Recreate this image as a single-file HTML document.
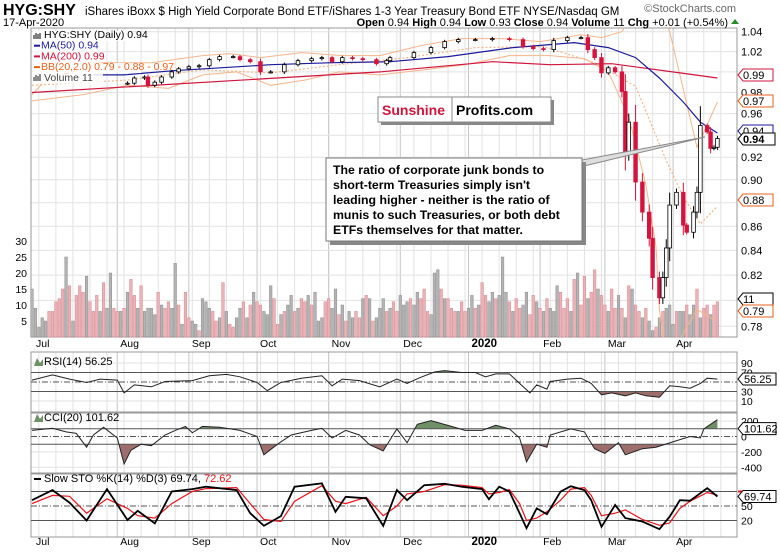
<!DOCTYPE html>
<html><head><meta charset="utf-8"><style>
body{margin:0;background:#fff;}
svg{display:block;font-family:"Liberation Sans",sans-serif;}
</style></head><body>
<svg id="c" width="780" height="552" viewBox="0 0 780 552" xmlns="http://www.w3.org/2000/svg">
<rect width="780" height="552" fill="#fff"/>
<g id="grid"></g>
<g id="vol"></g>
<g id="price"></g>
<g id="ind"></g>
<g id="txt"></g>
</svg>
<script>
// ---------- DATA ----------
const priceTicks=[1.04,1.02,0.98,0.96,0.92,0.90,0.86,0.84,0.82,0.78];
const volTicks=[30,25,20,15,10,5];
const monthNames=["Aug","Sep","Oct","Nov","Dec","2020","Feb","Mar","Apr"];
const monthDays=[25,46,66,87,108,128,149,168,188];
const pDays=[28,30,33,34,36,38,41,43,46,49,52,55,59,61,64,67,70,74,78,82,85,88,91,94,97,101,104,105,112,117,121,125,130,135,140,144,147,150,153,157,161,163,165,167,169,171,173,174,175,177,179,181,182,184,185,186,187,189,191,192,194,195,196,198,199,200,201];
const pClose=[0.989,0.994,0.995,0.987,0.990,0.995,1.000,1.003,1.005,1.006,1.012,1.015,1.015,1.012,1.010,1.000,1.000,1.007,1.011,1.013,1.014,1.010,1.014,1.013,1.012,1.008,1.011,1.014,1.019,1.024,1.030,1.032,1.032,1.033,1.032,1.025,1.023,1.022,1.031,1.034,1.034,1.022,1.014,0.999,1.004,1.000,0.981,0.925,0.952,0.898,0.872,0.850,0.818,0.802,0.818,0.842,0.878,0.889,0.861,0.855,0.872,0.889,0.949,0.943,0.928,0.929,0.937];
const ma200Days=[0,102,135,152,170,179,190,201];
const ma200Vals=[0.980,1.000,1.010,1.007,1.008,1.004,0.999,0.994];
const ma50Days=[18,27,41,70,88,105,122,141,159,169,177,184,191,196,201];
const ma50Vals=[0.997,0.997,1.001,1.007,1.009,1.010,1.015,1.024,1.029,1.024,1.014,0.994,0.971,0.952,0.942];
const bbUpDays=[0,4,20,35,50,58,67,79,91,102,114,126,138,149,161,167,173,177,180,184,187,195,201];
const bbUpVals=[0.978,0.992,1.009,1.009,1.016,1.018,1.014,1.019,1.016,1.016,1.026,1.033,1.033,1.030,1.037,1.034,1.040,1.062,1.075,1.060,1.040,0.929,0.971];
const bbLoDays=[0,15,28,40,50,60,70,80,90,102,115,127,140,152,162,169,175,180,183,184,186,190,195,200];
const bbLoVals=[0.972,0.978,0.987,0.984,0.997,1.000,0.987,0.992,1.000,0.997,1.002,1.007,1.016,1.016,1.013,1.000,0.957,0.896,0.843,0.793,0.755,0.770,0.793,0.785];
const bbMidDays=[0,28,50,70,90,110,130,150,165,177,186,191,196,201];
const bbMidVals=[0.987,0.992,1.002,0.999,1.007,1.014,1.024,1.025,1.009,0.986,0.917,0.885,0.862,0.877];
const volume=[15,9,3,6,5,8,8,11,12,15,25,16,5,13,16,14,19,11,8,13,
8,17,9,20,9,8,8,9,14,18,13,9,16,8,9,9,7,14,10,9,
11,9,23,10,4,14,6,5,4,2,12,11,9,8,5,6,17,8,4,3,
6,9,11,6,10,14,11,10,8,7,16,12,4,7,8,10,13,8,9,12,
11,13,10,14,5,6,11,12,9,15,7,10,5,8,6,8,6,12,13,12,
5,6,9,12,8,9,11,8,13,10,11,12,10,14,12,15,8,7,20,21,
15,12,12,9,8,8,11,8,9,13,9,10,17,13,11,14,12,13,25,14,
11,8,12,9,10,14,7,13,11,9,8,12,9,8,16,14,9,12,8,18,
20,10,19,12,14,21,15,13,10,8,15,9,13,9,6,16,15,10,8,6,
9,5,2,3,6,8,9,10,4,8,8,8,10,7,10,15,6,9,10,7,10,11];
const volDir="gggggrrrrrgrgrrrgrrrgrggrrgrgrrgrggggrgrrggrgrrggrgggrrgrgrrggrgrgrrgggrrgrggrgrrgrgggrrggrgrggrrgrgrgggrgrrgggrggrrrgggrgrrrgrrggrgrrggrgggrgrrggrrgrgrgggrrrgrgrrgrrgrrgrrgrgrgrrgrggrgrgggrggrggrgrrgrrgg";
const rsiDays=[0,6,11,16,20,25,27,30,35,39,47,52,57,61,66,69,73,79,85,88,91,96,102,107,110,114,118,121,126,130,133,136,140,143,146,148,151,152,157,161,164,167,170,174,177,180,184,187,190,193,196,198,201];
const rsiVals=[54,65,56,49,56,54,27,44,40,51,53,63,66,61,49,32,49,58,63,42,56,53,40,56,47,60,71,74,70,70,61,67,67,47,27,44,35,51,56,58,47,23,27,21,27,21,18,42,40,37,47,58,56];
const cciDays=[0,6,10,13,16,18,21,25,27,29,32,35,39,42,45,47,50,55,61,66,68,72,76,82,85,88,92,96,99,103,107,110,113,117,123,127,132,136,140,143,145,148,151,152,158,162,165,168,172,174,179,183,190,193,196,197,201];
const cciVals=[79,107,60,40,-139,19,119,-20,-357,-179,-100,-119,19,79,131,48,131,119,79,0,-238,-100,19,79,107,-20,79,19,-107,-187,99,-80,158,206,131,79,79,146,99,-20,-330,-100,-139,19,99,60,-159,-219,-80,-238,-159,-139,-40,0,-20,99,218,101.6];
const stoDays=[0,6,11,16,22,28,31,36,41,47,51,60,64,68,73,77,85,89,92,98,103,107,110,115,121,126,132,134,137,140,143,145,148,151,155,158,162,164,167,171,174,179,184,187,190,193,198,201];
const stoK=[62,83,57,20,85,21,40,14,80,85,90,83,35,9,29,90,97,38,69,66,9,83,62,93,96,90,85,64,90,80,35,4,45,33,80,91,83,62,7,52,25,18,2,28,62,61,87,69.7];
const stoD=[55,72,70,35,65,45,30,25,55,80,86,88,55,22,18,60,92,60,55,68,30,50,75,80,94,93,88,75,78,84,55,20,25,38,62,85,88,72,30,35,42,22,10,15,45,60,78,72.6];

// ---------- SCALES ----------
const X0=31,X1=737,DX=3.41;
const xs=d=>X0+d*DX+1;
const yP=v=>31.7+(Math.log(1.04)-Math.log(v))*1024;
const yV=v=>337-v*3.2;
const yR=v=>382-(v-50)*0.475;
const yC=v=>436.5-v*0.077;
const yS=v=>506-(v-50)*0.483;
const NS="http://www.w3.org/2000/svg";
function mk(tag,attrs,parent){const e=document.createElementNS(NS,tag);for(const k in attrs)e.setAttribute(k,attrs[k]);parent.appendChild(e);return e;}
const G=id=>document.getElementById(id);
const svg=G('c');

const defs=mk('defs',{},svg);
const cp=mk('clipPath',{id:'mainclip'},defs);mk('rect',{x:X0,y:28,width:X1-X0,height:309},cp);

// ---------- PANELS & GRID ----------
const panels=[[28,337],[352,412],[413,473],[474,537]];
const grid=G('grid');
panels.forEach((p,i)=>{
  for(let d=2;d<205;d+=5){const x=xs(d);if(x<X1){mk('line',{x1:x,x2:x,y1:p[0],y2:p[1],stroke:'#e2e2e2','stroke-width':1},grid);}}
  monthDays.forEach(d=>{mk('line',{x1:xs(d),x2:xs(d),y1:p[0],y2:p[1],stroke:'#c4c4c4','stroke-width':1},grid);});
});
priceTicks.concat([1.00,0.94,0.88,0.80]).forEach(v=>{mk('line',{x1:X0,x2:X1,y1:yP(v),y2:yP(v),stroke:'#e2e2e2'},grid);});
[[yR,[90,10]],[yC,[200,-200,-400]]].forEach(([f,vs])=>{vs.forEach(v=>mk('line',{x1:X0,x2:X1,y1:f(v),y2:f(v),stroke:'#e2e2e2'},grid));});
panels.forEach((p,i)=>{const r=mk('rect',{x:X0,y:p[0],width:X1-X0,height:p[1]-p[0],fill:'none',stroke:'#999'},grid);

});

// ---------- VOLUME ----------
const vg=G('vol');
volume.forEach((v,i)=>{const red=volDir[i]==='r';
  const r=mk('rect',{x:xs(i)-1.3,y:yV(v),width:2.6,height:v*3.2,fill:red?'#e9b4b8':'#b4b4b4',stroke:red?'#d8868d':'#8c8c8c','stroke-width':0.5},vg);
  
  
});

// ---------- PRICE ----------
const pg=mk('g',{'clip-path':'url(#mainclip)'},G('price'));
function line(days,vals,f,attrs,parent,name){let d='';days.forEach((dd,i)=>{d+=(i?'L':'M')+xs(dd).toFixed(1)+','+f(vals[i]).toFixed(1);});
  const p=mk('path',Object.assign({d:d,fill:'none'},attrs),parent);return p;}
line(bbUpDays,bbUpVals,yP,{stroke:'#f5b58a','stroke-width':1},pg,'bb-upper');
line(bbLoDays,bbLoVals,yP,{stroke:'#f5b58a','stroke-width':1},pg,'bb-lower');
line(bbMidDays,bbMidVals,yP,{stroke:'#f5b58a','stroke-width':1.2,'stroke-dasharray':'2,2'},pg,'bb-middle');
line(ma200Days,ma200Vals,yP,{stroke:'#d0143c','stroke-width':1.2},pg,'ma200-line');
line(ma50Days,ma50Vals,yP,{stroke:'#1a1a9c','stroke-width':1.2},pg,'ma50-line');
pClose.forEach((c,i)=>{const o=i?pClose[i-1]:c;const x=xs(pDays[i]);const w=Math.max(0.003,Math.abs(c-o)*0.5);
  const hi=Math.max(o,c)+w*0.6,lo=Math.min(o,c)-w*0.6;const up=c>=o;const col=up?'#000':'#d4143c';
  const g=mk('g',{},pg);
  mk('line',{x1:x,x2:x,y1:yP(hi),y2:yP(lo),stroke:col,'stroke-width':1},g);
  const yt=yP(Math.max(o,c)),yb=yP(Math.min(o,c));
  mk('rect',{x:x-1.8,y:yt,width:3.6,height:Math.max(1,yb-yt),fill:up?'#fff':col,stroke:col,'stroke-width':0.8},g);
});

// ---------- INDICATORS ----------
const ig=G('ind');
function fillArea(days,vals,f,level,above,color,name){
  const id='c'+name;const c=mk('clipPath',{id:id},defs);
  const ly=f(level);
  if(above)mk('rect',{x:X0,y:0,width:X1-X0,height:ly},c);else mk('rect',{x:X0,y:ly,width:X1-X0,height:600},c);
  let d='M'+xs(days[0])+','+ly;days.forEach((dd,i)=>{d+='L'+xs(dd).toFixed(1)+','+f(vals[i]).toFixed(1);});d+='L'+xs(days[days.length-1])+','+ly+'Z';
  const p=mk('path',{d:d,fill:color,'clip-path':'url(#'+id+')'},ig);
}
fillArea(rsiDays,rsiVals,yR,70,true,'#6f8f66','rsi-overbought-fill');
fillArea(rsiDays,rsiVals,yR,30,false,'#9c6f6c','rsi-oversold-fill');
fillArea(cciDays,cciVals,yC,100,true,'#6f8f66','cci-above-fill');
fillArea(cciDays,cciVals,yC,-100,false,'#9c6f6c','cci-below-fill');
[[yR,70,0],[yR,30,0],[yR,50,1],[yC,100,0],[yC,-100,0],[yC,0,1],[yS,80,0],[yS,20,0],[yS,50,1]].forEach(([f,v,dash])=>{
  const l=mk('line',{x1:X0,x2:X1,y1:f(v),y2:f(v),stroke:'#555','stroke-width':1},ig);if(dash)l.setAttribute('stroke-dasharray','6,2,1,2');});
line(rsiDays,rsiVals,yR,{stroke:'#222','stroke-width':1},ig,'rsi-line');
line(cciDays,cciVals,yC,{stroke:'#222','stroke-width':1},ig,'cci-line');
line(stoDays,stoD,yS,{stroke:'#e8141c','stroke-width':1.2},ig,'sto-d-line');
line(stoDays,stoK,yS,{stroke:'#000','stroke-width':1.8},ig,'sto-k-line');
</script>
<script>
(function(){
const T=document.getElementById('txt');
function t(x,y,s,attrs,name){const e=mk('text',Object.assign({x:x,y:y,'font-size':11,fill:'#000'},attrs||{}),T);e.textContent=s;return e;}
t(3,15,'HYG:SHY',{'font-size':16,'font-weight':'bold'},'symbol-title');
t(85,15,'iShares iBoxx $ High Yield Corporate Bond ETF/iShares 1-3 Year Treasury Bond ETF  NYSE/Nasdaq GM',{'font-size':11.5},'chart-title');
t(736,12,'©StockCharts.com',{'font-size':11,fill:'#666','text-anchor':'end'},'watermark');
t(3,26,'17-Apr-2020',{'font-size':11},'date-label');
const q=t(728,26,'',{'font-size':11,'text-anchor':'end'},'quote-summary');
[['Open',1],[' 0.94 ',0],['High',1],[' 0.94 ',0],['Low',1],[' 0.93 ',0],['Close',1],[' 0.94 ',0],['Volume',1],[' 11 ',0],['Chg',1],[' +0.01 (+0.54%)',0]].forEach(([s,b])=>{const ts=document.createElementNS(NS,'tspan');ts.textContent=s;if(b)ts.setAttribute('font-weight','bold');q.appendChild(ts);});
mk('path',{d:'M731,24 l4,-5 l4,5z',fill:'#2a8a2a'},T);
const lg=[['HYG:SHY (Daily) 0.94','#000'],['MA(50) 0.94','#1a1a9c'],['MA(200) 0.99','#d0143c'],['BB(20,2.0) 0.79 - 0.88 - 0.97','#e8601c'],['Volume 11','#444']];
lg.forEach((l,i)=>{const y=38+i*10.7;mk('rect',{x:33,y:y-7,width:i==3?108:(i==0?96:70),height:10,fill:'#fff','fill-opacity':0.85},T);
 if(i>0&&i<4)mk('rect',{x:34,y:y-4,width:6,height:2,fill:l[1]},T);
 t(i==0||i==4?44:41,y,l[0],{fill:l[1],'font-size':10.5},'legend-'+i);});
mk('path',{d:'M34,35 v4 M36,33 v6 M38,34 v5 M40,33 v6',stroke:'#000','stroke-width':1},T);
mk('path',{d:'M34,81 v-4 M36,81 v-6 M38,81 v-5 M40,81 v-7',stroke:'#666','stroke-width':1.5},T);
priceTicks.forEach(v=>t(741,yP(v)+4,v.toFixed(2),{'font-size':11},'price-tick'));
function tag(y,s,col,bold,name){mk('path',{d:`M738,${y} l5,-6 h${bold?32:30} v12 h-${bold?32:30}z`,fill:'#fff',stroke:col,'stroke-width':1},T);t(743,y+4,s,{fill:'#000','font-size':11,'font-weight':bold?'bold':'normal'},name);}
tag(75,'0.99','#d0143c',0,'ma200-tag');tag(101,'0.97','#e8601c',0,'bb-upper-tag');tag(131,'0.94','#1a1a9c',0,'ma50-tag');
tag(200,'0.88','#e8601c',0,'bb-mid-tag');tag(299,'11','#000',0,'volume-tag');tag(311,'0.79','#e8601c',0,'bb-lower-tag');tag(139,'0.94','#000',1,'price-tag');
volTicks.forEach(v=>t(27,yV(v)+4,String(v),{'font-size':10.5,'text-anchor':'end'},'volume-tick'));
[[36,347],[36,545]].forEach(([x,y])=>{t(x,y,'Jul',{'font-size':10.5},'month-label');
 monthNames.forEach((m,i)=>t(xs(monthDays[i])+3,y,m,{'font-size':m=='2020'?11.5:10.5,'font-weight':m=='2020'?'bold':'normal'},'month-label'));});
t(44,365,'RSI(14) 56.25',{'font-size':11},'rsi-label');mk('path',{d:'M34,366 l3,-8 l3,5 l3,-4 v7z',fill:'#6f8f66'},T);
t(44,421,'CCI(20) 101.62',{'font-size':11},'cci-label');mk('path',{d:'M34,422 l3,-8 l3,5 l3,-4 v7z',fill:'#6f8f66'},T);
mk('rect',{x:34,y:478,width:7,height:2,fill:'#000'},T);
const st=t(44,482,'Slow STO %K(14) %D(3) 69.74, ',{'font-size':11},'sto-label');const ts=document.createElementNS(NS,'tspan');ts.setAttribute('fill','#e8141c');ts.textContent='72.62';st.appendChild(ts);
[90,70,30,10].forEach(v=>t(741,yR(v)+4,String(v),{'font-size':10.5},'rsi-tick'));
[200,0,-200,-400].forEach(v=>t(741,yC(v)+4,String(v),{'font-size':10.5},'cci-tick'));
[50,20].forEach(v=>t(741,yS(v)+4,String(v),{'font-size':10.5},'sto-tick'));
function tag2(y,s,name){mk('path',{d:`M738,${y} l5,-6 h33 v12 h-33z`,fill:'#fff',stroke:'#000'},T);t(744,y+4,s,{'font-size':11},name);}
tag2(yR(56.25),'56.25','rsi-value-tag');tag2(yC(101.62),'101.62','cci-value-tag');
mk('line',{x1:738,x2:776,y1:yS(80),y2:yS(80),stroke:'#e8141c','stroke-width':2},T);
tag2(yS(69.74),'69.74','sto-value-tag');
mk('path',{d:'M582,160 L705,137 L584,166',fill:'#ddd',stroke:'#888','stroke-width':1},T);
mk('rect',{x:330,y:162,width:256,height:83,fill:'#888'},T);
const box=mk('rect',{x:326,y:158,width:256,height:83,fill:'#fff',stroke:'#777','stroke-width':1},T);

['The ratio of corporate junk bonds to','short-term Treasuries simply isn\'t','leading higher - neither is the ratio of','munis to such Treasuries, or both debt','ETFs themselves for that matter.'].forEach((s,i)=>t(333,174+i*15,s,{'font-size':12.3,'font-weight':'bold'},'annotation-line'));
mk('rect',{x:381,y:100,width:173,height:25,fill:'#888'},T);
const lb=mk('rect',{x:378,y:97,width:173,height:25,fill:'#fff',stroke:'#888'},T);

mk('line',{x1:452,x2:452,y1:97,y2:122,stroke:'#888'},T);
t(382,115,'Sunshine',{'font-size':14,'font-weight':'bold',fill:'#d0143c'},'logo-sunshine');
t(456,115,'Profits.com',{'font-size':14,'font-weight':'bold'},'logo-profits');
})();
</script>
</body></html>
